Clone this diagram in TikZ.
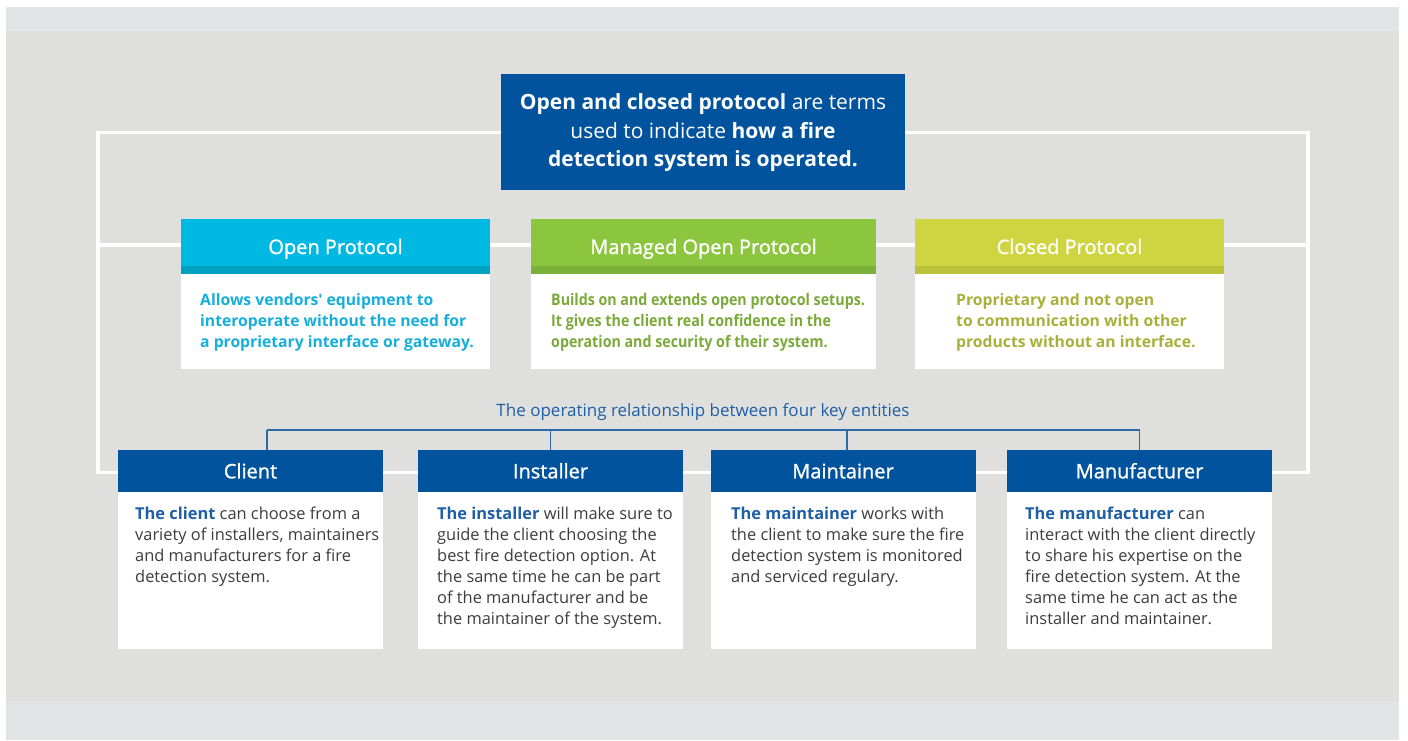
\documentclass[tikz,border=0pt]{standalone}
\usepackage{fontspec}
\setmainfont{Open Sans}
\newfontfamily\condfont{Open Sans}[FakeStretch=0.89]
\newfontfamily\medfont{Open Sans}[FakeBold=1.2]
\definecolor{bandgray}{HTML}{E3E4E6}
\definecolor{maingray}{HTML}{DFE0DD}
\definecolor{dblue}{HTML}{00539C}
\definecolor{ocyan}{HTML}{00B9E3}
\definecolor{ocyandk}{HTML}{00A0C0}
\definecolor{mgreen}{HTML}{8CC63F}
\definecolor{mgreendk}{HTML}{7BB03A}
\definecolor{cyel}{HTML}{CFD541}
\definecolor{cyeldk}{HTML}{BCC13A}
\definecolor{otext}{HTML}{16AEDB}
\definecolor{mtext}{HTML}{7BAA3A}
\definecolor{ctext}{HTML}{A7B03A}
\definecolor{btext}{HTML}{3D3D3D}
\definecolor{leadblue}{HTML}{1F5FA6}
\definecolor{connblue}{HTML}{2D69A8}
\begin{document}
\begin{tikzpicture}[x=1pt,y=-1pt,
  panel/.style={rectangle, inner sep=0pt, outer sep=0pt, draw=none},
  hdrtxt/.style={inner sep=0pt, anchor=base, text=white, font=\fontsize{20}{24}\selectfont\medfont},
  enttxt/.style={inner sep=0pt, anchor=base, text=white, font=\fontsize{20}{24}\selectfont\medfont},
  protxt/.style={inner sep=0pt, anchor=base west, align=left, font=\fontsize{15.7}{21}\selectfont\bfseries},
  bodytxt/.style={inner sep=0pt, anchor=base west, align=left, text=btext, font=\fontsize{16.4}{21}\selectfont},
  frame/.style={white, line width=3.5pt},
  conn/.style={connblue, line width=1.3pt}
]
\useasboundingbox (0,0) rectangle (1408,740);
% background
\fill[white] (0,0) rectangle (1408,740);
\fill[bandgray] (6,7) rectangle (1399,740);
\fill[maingray] (6,31) rectangle (1399,700.5);

% white frame
\coordinate (fTL) at (98,132.5);
\coordinate (fTR) at (1308,132.5);
\coordinate (fBR) at (1308,472.5);
\coordinate (fBL) at (98,472.5);
\coordinate (fML) at (98,245);
\coordinate (fMR) at (1308,245);
\draw[frame] (fTL) -- (fTR) -- (fBR) -- (fBL) -- cycle;
\draw[frame] (fML) -- (fMR);

% top box (text nodes anchored at the baseline of their last line)
\node[panel, fill=dblue, minimum width=404pt, minimum height=116pt] (top) at (703,132) {};
\node[inner sep=0pt, anchor=base, align=center, text=white, font=\fontsize{21}{28.7}\selectfont] (toptxt) at (703,166.7)
  {{\bfseries Open and closed protocol} are terms\\ used to indicate {\bfseries how a fire}\\ {\bfseries detection system is operated.}};

% protocol boxes
\node[panel, fill=ocyan, minimum width=309pt, minimum height=47pt] (openh) at (335.5,242.5) {};
\node[panel, fill=ocyandk, minimum width=309pt, minimum height=8pt, anchor=north] (opens) at (openh.south) {};
\node[panel, fill=white, minimum width=309pt, minimum height=95pt, anchor=north] (openb) at (opens.south) {};
\node[hdrtxt] (openht) at (335.5,254) {Open Protocol};
\node[protxt, text=otext] (openbt) at (200,347) {Allows vendors\textquotesingle\ equipment to\\ interoperate without the need for\\ a proprietary interface or gateway.};

\node[panel, fill=mgreen, minimum width=345pt, minimum height=47pt] (mgdh) at (703.5,242.5) {};
\node[panel, fill=mgreendk, minimum width=345pt, minimum height=8pt, anchor=north] (mgds) at (mgdh.south) {};
\node[panel, fill=white, minimum width=345pt, minimum height=95pt, anchor=north] (mgdb) at (mgds.south) {};
\node[hdrtxt] (mgdht) at (703.5,254) {Managed Open Protocol};
\node[protxt, text=mtext, font=\fontsize{16}{21}\selectfont\condfont\bfseries] (mgdbt) at (551,347) {Builds on and extends open protocol setups.\\ It gives the client real confidence in the\\ operation and security of their system.};

\node[panel, fill=cyel, minimum width=309pt, minimum height=47pt] (clsh) at (1069.5,242.5) {};
\node[panel, fill=cyeldk, minimum width=309pt, minimum height=8pt, anchor=north] (clss) at (clsh.south) {};
\node[panel, fill=white, minimum width=309pt, minimum height=95pt, anchor=north] (clsb) at (clss.south) {};
\node[hdrtxt] (clsht) at (1069.5,254) {Closed Protocol};
\node[protxt, text=ctext] (clsbt) at (956,347) {Proprietary and not open\\ to communication with other\\ products without an interface.};

% relationship caption
\node[inner sep=0pt, anchor=base, text=leadblue, font=\fontsize{17}{20}\selectfont] (cap) at (703,416) {The operating relationship between four key entities};

% entity boxes
\node[panel, fill=dblue, minimum width=265pt, minimum height=42pt] (clih) at (250.5,471) {};
\node[panel, fill=white, minimum width=265pt, minimum height=157pt, anchor=north] (clib) at (clih.south) {};
\node[enttxt] (cliht) at (250.5,478.3) {Client};
\node[bodytxt] (clibt) at (135,582.5) {{\color{leadblue}\bfseries The client} can choose from a\\ variety of installers, maintainers\\ and manufacturers for a fire\\ detection system.};

\node[panel, fill=dblue, minimum width=265pt, minimum height=42pt] (insh) at (550.5,471) {};
\node[panel, fill=white, minimum width=265pt, minimum height=157pt, anchor=north] (insb) at (insh.south) {};
\node[enttxt] (insht) at (550.5,478.3) {Installer};
\node[bodytxt] (insbt) at (437,624.5) {{\color{leadblue}\bfseries The installer} will make sure to\\ guide the client choosing the\\ best fire detection option. At\\ the same time he can be part\\ of the manufacturer and be\\ the maintainer of the system.};

\node[panel, fill=dblue, minimum width=265pt, minimum height=42pt] (mnth) at (843,471) {};
\node[panel, fill=white, minimum width=265pt, minimum height=157pt, anchor=north] (mntb) at (mnth.south) {};
\node[enttxt] (mntht) at (843,478.3) {Maintainer};
\node[bodytxt] (mntbt) at (731,582.5) {{\color{leadblue}\bfseries The maintainer} works with\\ the client to make sure the fire\\ detection system is monitored\\ and serviced regulary.};

\node[panel, fill=dblue, minimum width=265pt, minimum height=42pt] (mfrh) at (1139.5,471) {};
\node[panel, fill=white, minimum width=265pt, minimum height=157pt, anchor=north] (mfrb) at (mfrh.south) {};
\node[enttxt] (mfrht) at (1139.5,478.3) {Manufacturer};
\node[bodytxt] (mfrbt) at (1025,624.5) {{\color{leadblue}\bfseries The manufacturer} can\\ interact with the client directly\\ to share his expertise on the\\ fire detection system. At the\\ same time he can act as the\\ installer and maintainer.};

% connectors
\coordinate (busC) at (267,430);
\coordinate (busI) at (550.5,430);
\coordinate (busM) at (847,430);
\coordinate (busF) at (1139.5,430);
\draw[conn] (busC) -- (busF);
\draw[conn] (busC) -- (busC |- clih.north);
\draw[conn] (busI) -- (insh.north);
\draw[conn] (busM) -- (busM |- mnth.north);
\draw[conn] (busF) -- (mfrh.north);
\end{tikzpicture}
\end{document}
